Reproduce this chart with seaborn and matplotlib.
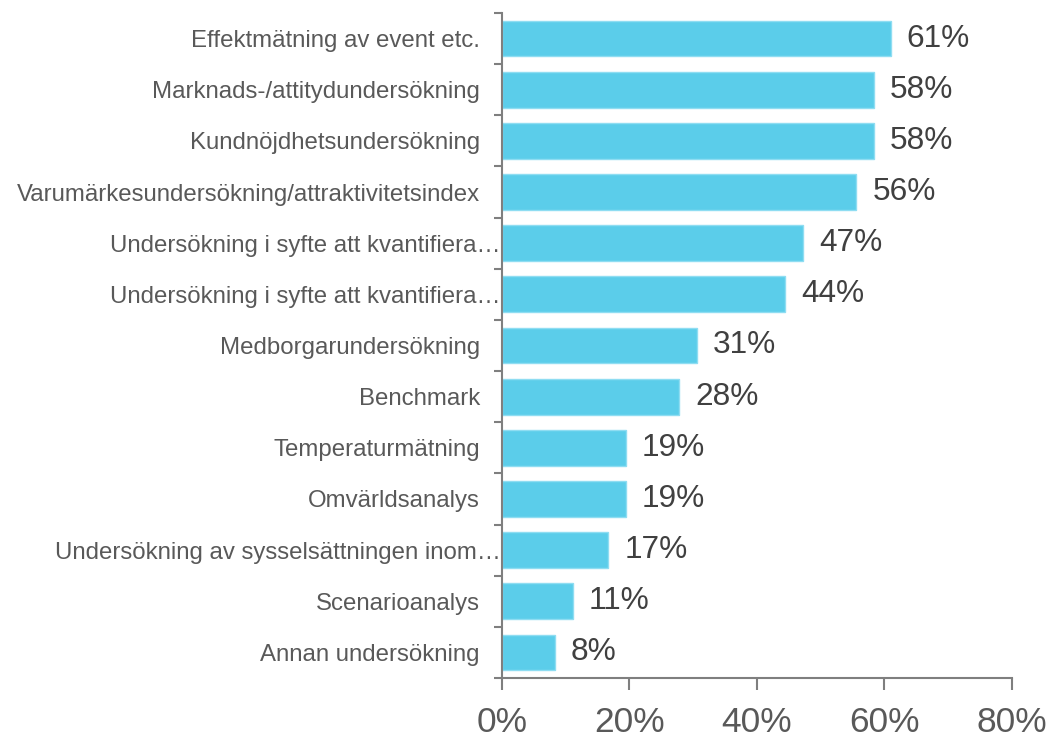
import matplotlib
matplotlib.use("Agg")
import matplotlib.pyplot as plt
import seaborn as sns
import pandas as pd
import numpy as np
from matplotlib.ticker import FixedLocator, PercentFormatter
from matplotlib.transforms import ScaledTranslation

# data
categories = [
    "Effektmätning av event etc.",
    "Marknads-/attitydundersökning",
    "Kundnöjdhetsundersökning",
    "Varumärkesundersökning/attraktivitetsindex",
    "Undersökning i syfte att kvantifiera…",
    "Undersökning i syfte att kvantifiera…",
    "Medborgarundersökning",
    "Benchmark",
    "Temperaturmätning",
    "Omvärldsanalys",
    "Undersökning av sysselsättningen inom…",
    "Scenarioanalys",
    "Annan undersökning",
]
values = [61.0, 58.3, 58.3, 55.6, 47.2, 44.4, 30.6, 27.8, 19.4, 19.4, 16.7, 11.1, 8.3]
x_ticks = [0, 20, 40, 60, 80]

df = pd.DataFrame({"cat": [f"{i}" for i in range(len(categories))], "val": values})

sns.set_theme(style="white")
plt.rcParams["font.family"] = ["Liberation Sans", "DejaVu Sans"]

fig = plt.figure(figsize=(10.5, 7.38), dpi=100)
ax = fig.add_axes([0.478, 0.0813, 0.4858, 0.9011])

sns.barplot(data=df, x="val", y="cat", color="#5BCDEA", saturation=1,
            width=0.7, edgecolor="#8FDDF2", linewidth=1, ax=ax)

for i, v in enumerate(values):
    ax.text(v + 2.5, i, f"{round(v)}%", va="center", ha="left",
            fontsize=22.8, color="#404040")

ax.set_xlim(0, 80)
ax.set_ylim(len(categories) - 0.5, -0.5)
ax.set_xticks(x_ticks)
ax.xaxis.set_major_formatter(PercentFormatter(decimals=0))
ax.set_yticks(range(len(categories)))
ax.set_yticklabels(categories)
ax.yaxis.set_minor_locator(FixedLocator(np.arange(-0.5, len(categories), 1)))
ax.set_xlabel("")
ax.set_ylabel("")

for side in ["top", "right"]:
    ax.spines[side].set_visible(False)
for side in ["left", "bottom"]:
    ax.spines[side].set_color("#7F7F7F")
    ax.spines[side].set_linewidth(1.5)

ax.tick_params(axis="x", which="major", length=8.5, width=1.5, color="#7F7F7F",
               labelsize=25.5, labelcolor="#595959", pad=12, bottom=True)
ax.tick_params(axis="y", which="major", length=0, labelsize=17.3,
               labelcolor="#595959", pad=15.8)
ax.tick_params(axis="y", which="minor", length=6, width=1.5, color="#7F7F7F", left=True)

# truncated labels: the ellipsis hangs past the normal right edge
for lbl in ax.get_yticklabels():
    if lbl.get_text().endswith("…"):
        lbl.set_transform(lbl.get_transform() + ScaledTranslation(0.21, 0, fig.dpi_scale_trans))

fig.savefig("out.png", dpi=100)
